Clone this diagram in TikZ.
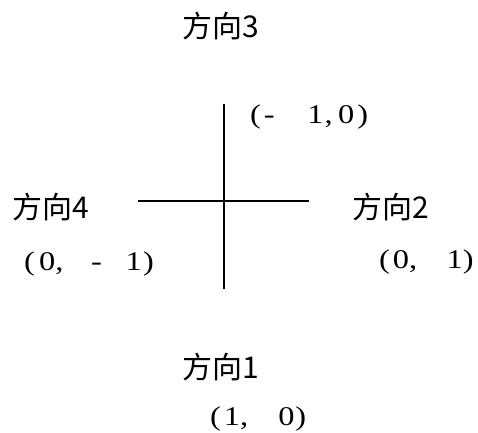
\documentclass[tikz,border=0pt]{standalone}
\usepackage{fontspec}
\setmainfont{Liberation Serif}
\newfontfamily\cjk{Noto Sans CJK SC}
\newfontfamily\coordfont[FakeStretch=1.2]{Liberation Serif}
\begin{document}
\begin{tikzpicture}[x=1pt,y=-1pt,
  dirlabel/.style={anchor=base west,inner sep=0pt,font=\cjk\fontsize{30}{34}\selectfont},
  coordlabel/.style={anchor=base west,inner sep=0pt,font=\coordfont\fontsize{27}{31}\selectfont},
  axis/.style={line width=2.5pt}]
\useasboundingbox (0,0) rectangle (478,432);
\coordinate (vt) at (224,104);
\coordinate (vb) at (224,289);
\coordinate (hl) at (138,201);
\coordinate (hr) at (309,201);
\draw[axis] (vt) -- (vb);
\draw[axis] (hl) -- (hr);
\node[dirlabel] (d3) at (182,37) {方向3};
\node[dirlabel] (d4) at (12,218) {方向4};
\node[dirlabel] (d2) at (352,218) {方向2};
\node[dirlabel] (d1) at (182,378) {方向1};
\node[coordlabel] (c3) at (250,123) {(\hspace{3pt}-\hspace{32.6pt}1\hspace{1pt},\hspace{5.4pt}0\hspace{3pt})};
\node[coordlabel] (c4) at (24,270) {(\hspace{4.2pt}0,\hspace{27.7pt}-\hspace{23.6pt}1\hspace{1.4pt})};
\node[coordlabel] (c2) at (379,268) {(\hspace{3pt}0,\hspace{29.4pt}1)};
\node[coordlabel] (c1) at (210,425) {(\hspace{3pt}1,\hspace{30pt}0\hspace{1pt})};
\end{tikzpicture}
\end{document}
